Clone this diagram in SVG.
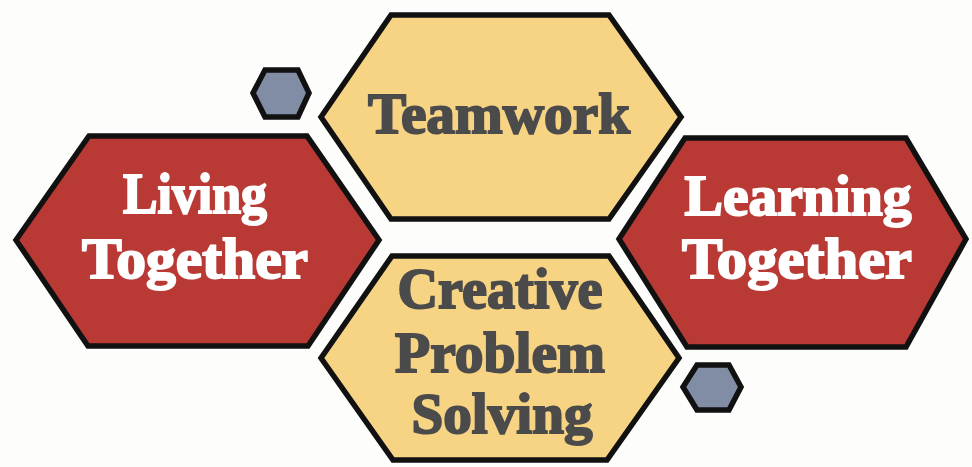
<svg xmlns="http://www.w3.org/2000/svg" width="972" height="467" viewBox="0 0 972 467">
<style>
.hex{stroke:#111;stroke-width:5.5;stroke-linejoin:miter}
.red{fill:#B93A35}
.yel{fill:#F7D384}
.gry{fill:#808DA5}
.t{font-family:"Liberation Serif","Times New Roman",serif;font-weight:bold;font-size:57px;text-anchor:middle}
.w{fill:#FFFFFF;stroke:#FFFFFF;stroke-width:2}
.d{fill:#4B4B4B;stroke:#4B4B4B;stroke-width:2}
</style>
<rect width="972" height="467" fill="#FDFDFC"/>
<g id="connectors"></g>
<g id="small-hex-top">
<polygon class="hex gry" points="253,93 265,70 298,70 309,93 298,117 265,117"/>
</g>
<g id="small-hex-bottom">
<polygon class="hex gry" points="683,387 697,365 729,365 741,387 729,410 697,410"/>
</g>
<g id="living-together">
<polygon class="hex red" points="16,240 89,136 307,136 379,240 308,346 88,346"/>
<text class="t w" x="195" y="213" textLength="144" lengthAdjust="spacingAndGlyphs">Living</text>
<text class="t w" x="195" y="278" textLength="226" lengthAdjust="spacingAndGlyphs">Together</text>
</g>
<g id="teamwork">
<polygon class="hex yel" points="321,117 391,15 609,15 681,117 609,219 391,219"/>
<text class="t d" x="499" y="133" textLength="262" lengthAdjust="spacingAndGlyphs">Teamwork</text>
</g>
<g id="creative-problem-solving">
<polygon class="hex yel" points="321,358 392,256 609,256 679,358 607,460 393,460"/>
<text class="t d" x="500" y="308" textLength="205" lengthAdjust="spacingAndGlyphs">Creative</text>
<text class="t d" x="500" y="372" textLength="210" lengthAdjust="spacingAndGlyphs">Problem</text>
<text class="t d" x="502" y="433" textLength="181" lengthAdjust="spacingAndGlyphs">Solving</text>
</g>
<g id="learning-together">
<polygon class="hex red" points="619,239 685,138 906,138 966,239 906,347 687,347"/>
<text class="t w" x="798" y="215" textLength="227" lengthAdjust="spacingAndGlyphs">Learning</text>
<text class="t w" x="797" y="278" textLength="230" lengthAdjust="spacingAndGlyphs">Together</text>
</g>
</svg>
